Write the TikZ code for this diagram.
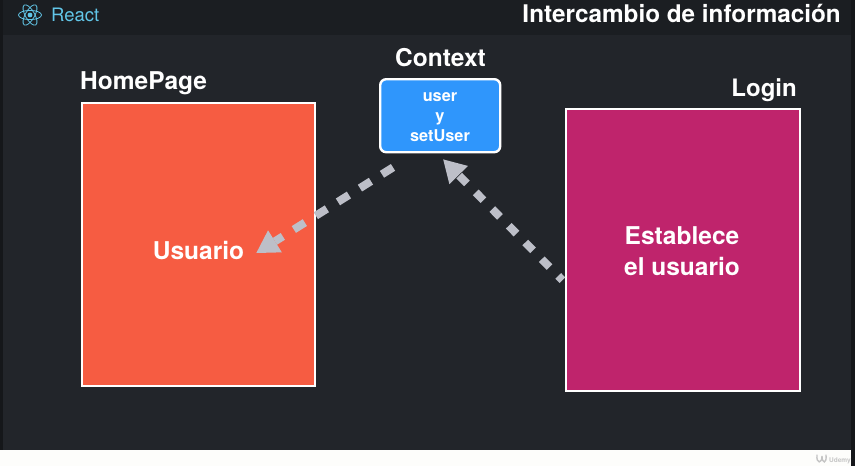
\documentclass[tikz,border=0pt]{standalone}
\usepackage{fontspec}
\setmainfont{TeX Gyre Heros}
\usetikzlibrary{arrows.meta}
\definecolor{bodybg}{HTML}{22252A}
\definecolor{barbg}{HTML}{1B1E22}
\definecolor{edgebg}{HTML}{15171A}
\definecolor{reactblue}{HTML}{62C6E8}
\definecolor{homecol}{HTML}{F65C42}
\definecolor{logincol}{HTML}{BF246C}
\definecolor{ctxcol}{HTML}{2F96FC}
\definecolor{arrowcol}{HTML}{BDBFC8}
\definecolor{strip}{HTML}{FDFDFB}
\definecolor{wmark}{HTML}{C4C4C4}
\tikzset{
  x=1pt,y=-1pt,
  panel/.style={draw=white,line width=2.4pt,anchor=north west,inner sep=0pt,minimum width=#1},
  title/.style={text=white,font=\bfseries\fontsize{24.5}{27}\selectfont,inner sep=0pt},
  paneltext/.style={text=white,font=\bfseries\fontsize{24.5}{31}\selectfont,align=center,inner sep=0pt},
  flow/.style={draw=arrowcol,line width=8pt,
    -{Triangle[length=22pt,width=26pt,line width=0pt]}},
  orbit/.style={draw=reactblue,line width=0.8pt}
}
\begin{document}
\begin{tikzpicture}
\useasboundingbox (0,0) rectangle (855,466);
\fill[edgebg] (0,0) rectangle (855,466);
\fill[bodybg] (3,0) rectangle (851,450);
\fill[barbg] (3,0) rectangle (851,35);
\fill[strip] (0,450) rectangle (851,466);

% React logo
\foreach \a in {0,60,120}{
  \draw[orbit,rotate around={\a:(30,15)}] (30,15) ellipse [x radius=11.5,y radius=4.6];
}
\fill[reactblue] (30,15) circle (2.4);
\node[anchor=west,text=reactblue,inner sep=0pt,font=\fontsize{18.5}{20}\selectfont] (react) at (51,15) {React};

\node[anchor=east,text=white,inner sep=0pt,font=\bfseries\fontsize{24.3}{27}\selectfont] (ttl) at (841,13) {Intercambio de información};

% Panels
\node[panel=233pt,fill=homecol,minimum height=283pt] (home) at (80.5,102) {};
\node[panel=234pt,fill=logincol,minimum height=282pt] (login) at (564.5,108) {};
\node[draw=white,line width=2.4pt,fill=ctxcol,rounded corners=6pt,minimum width=120pt,minimum height=73pt,inner sep=0pt,anchor=north west] (ctx) at (379,78) {};
\node[text=white,font=\bfseries\fontsize{16.3}{20}\selectfont,align=center,inner sep=0pt] (ctxtext) at (440,117) {user\\y\\setUser};

\node[title,anchor=west] (hpt) at (80,83) {HomePage};
\node[title,anchor=east,font=\bfseries\fontsize{24}{27}\selectfont] (lgt) at (797,90.5) {Login};
\node[title] (cxt) at (440.5,58) {Context};

\node[paneltext] (usr) at (198.5,251) {Usuario};
\node[paneltext] (est) at (682,251) {Establece\\el usuario};

% Watermark
\draw[wmark,line width=1.4pt,line cap=round] (817,455) .. controls (816,464) and (822,464) .. (822,456) .. controls (822,464) and (827,464) .. (826,455);
\node[anchor=west,text=wmark,inner sep=0pt,font=\bfseries\fontsize{6.5}{7}\selectfont] (udemy) at (829,460.5) {Udemy};

% Connectors
\coordinate (a1s) at ([shift={(14,14)}]ctx.south west);
\coordinate (a1e) at ([shift={(12,2)}]usr.east);
\coordinate (a2s) at ([shift={(-2,30)}]login.west);
\coordinate (a2e) at ([shift={(3,6)}]ctx.south);
\draw[flow,dash pattern=on 13pt off 13pt] (a1s) -- (a1e);
\draw[flow,dash pattern=on 11pt off 12.5pt,dash phase=5pt] (a2s) -- (a2e);
\end{tikzpicture}
\end{document}
